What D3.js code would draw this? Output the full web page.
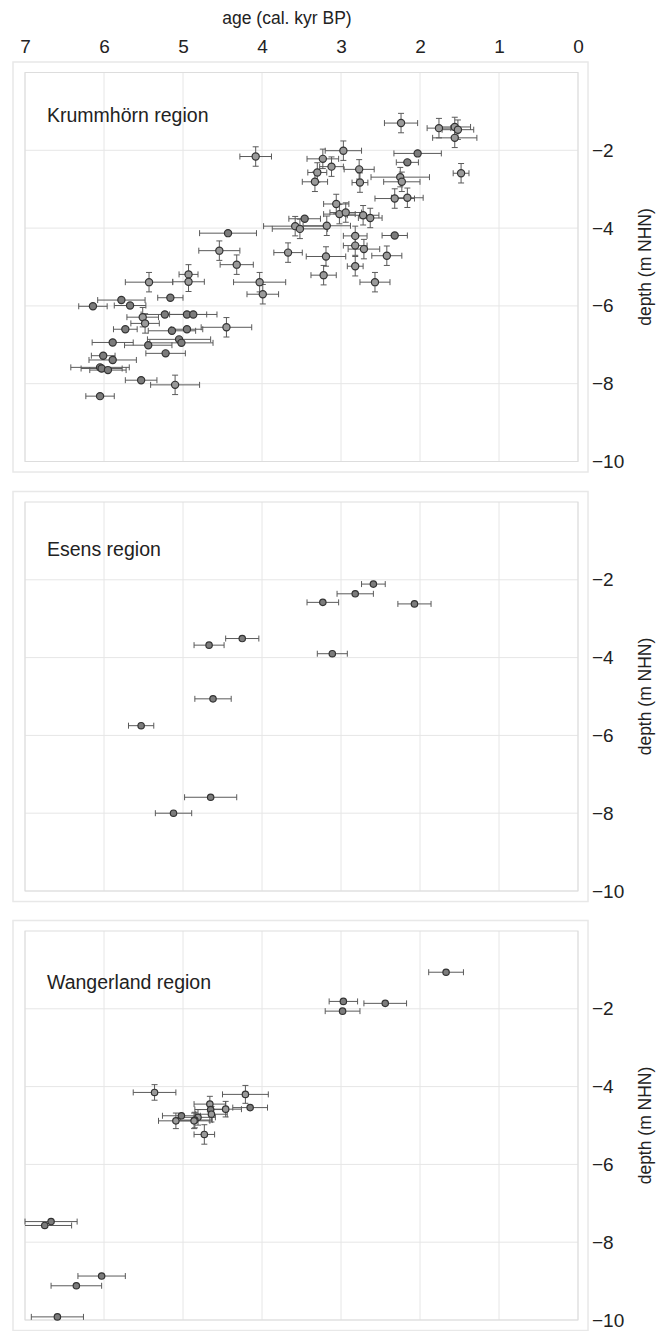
<!DOCTYPE html>
<html>
<head>
<meta charset="utf-8">
<script src="https://cdn.jsdelivr.net/npm/d3@7"></script>
<style>
  body { margin: 0; background: #fff; }
  text { font-family: "Liberation Sans", Arial, sans-serif; fill: #222; }
</style>
</head>
<body>
<div id="chart"></div>
<script>
// axis ticks
var ageTicks = [7, 6, 5, 4, 3, 2, 1, 0];
var depthTicks = [-2, -4, -6, -8, -10];
var regionNames = ["Krummhörn region", "Esens region", "Wangerland region"];

// Krummhörn: age (cal. kyr BP), depth (m NHN), age error, depth error
var krummAge = [2.24, 1.76, 1.56, 1.52, 1.56, 4.08, 2.97, 2.03, 3.23, 2.16, 3.12, 2.77, 3.30, 1.48, 2.25, 2.23, 3.33, 2.76, 2.32, 2.16,
  3.06, 3.02, 2.94, 2.72, 2.63, 3.46, 3.58, 3.52, 3.18, 4.43, 2.32, 2.82, 2.82, 2.71, 4.54, 3.67, 2.42, 3.19, 4.32, 2.82,
  4.93, 3.22, 4.93, 5.43, 4.03, 2.57, 3.99, 5.16, 5.78, 5.67, 6.14, 5.23, 4.95, 4.87, 5.51, 5.48, 5.73, 5.14, 4.95, 4.45,
  5.89, 5.44, 5.05, 5.02, 5.22, 6.01, 5.89, 6.05, 6.03, 5.95, 5.53, 5.10, 6.05];
var krummDepth = [-1.30, -1.43, -1.40, -1.47, -1.68, -2.16, -2.01, -2.08, -2.22, -2.31, -2.42, -2.49, -2.57, -2.59, -2.69, -2.81, -2.81, -2.83, -3.24, -3.22,
  -3.38, -3.64, -3.60, -3.67, -3.74, -3.76, -3.95, -4.02, -3.94, -4.13, -4.19, -4.20, -4.45, -4.54, -4.58, -4.63, -4.71, -4.73, -4.94, -4.98,
  -5.19, -5.21, -5.38, -5.39, -5.39, -5.39, -5.70, -5.79, -5.85, -5.99, -6.01, -6.22, -6.22, -6.22, -6.29, -6.45, -6.60, -6.64, -6.60, -6.55,
  -6.94, -7.01, -6.86, -6.95, -7.22, -7.28, -7.39, -7.58, -7.61, -7.65, -7.91, -8.03, -8.32];
var krummAgeErr = [0.21, 0.15, 0.2, 0.2, 0.28, 0.2, 0.23, 0.3, 0.2, 0.14, 0.15, 0.19, 0.12, 0.1, 0.37, 0.23, 0.16, 0.1, 0.25, 0.2,
  0.16, 0.2, 0.2, 0.2, 0.15, 0.2, 0.4, 0.35, 0.3, 0.36, 0.16, 0.15, 0.15, 0.2, 0.26, 0.18, 0.19, 0.25, 0.21, 0.1,
  0.12, 0.16, 0.2, 0.3, 0.33, 0.19, 0.2, 0.16, 0.3, 0.2, 0.18, 0.3, 0.25, 0.3, 0.2, 0.18, 0.15, 0.3, 0.2, 0.32,
  0.26, 0.3, 0.4, 0.4, 0.25, 0.15, 0.3, 0.37, 0.26, 0.23, 0.2, 0.31, 0.18];
var krummDepthErr = [0.25, 0.25, 0.25, 0.25, 0.25, 0.25, 0.25, 0, 0.25, 0, 0.25, 0.25, 0.25, 0.25, 0.25, 0.25, 0.25, 0.25, 0.25, 0.25,
  0.25, 0.25, 0.25, 0.25, 0.25, 0, 0.25, 0.25, 0.25, 0, 0, 0.25, 0.25, 0.25, 0.25, 0.25, 0.25, 0.25, 0.25, 0.25,
  0.25, 0.25, 0.25, 0.25, 0.25, 0.25, 0.25, 0, 0, 0, 0, 0, 0, 0, 0.25, 0.25, 0, 0, 0, 0.25,
  0, 0, 0, 0, 0, 0, 0, 0, 0, 0, 0, 0.25, 0];

// Esens
var esensAge = [2.59, 2.82, 3.23, 2.07, 4.25, 4.67, 3.11, 4.62, 5.53, 4.65, 5.12];
var esensDepth = [-2.11, -2.36, -2.58, -2.62, -3.51, -3.68, -3.90, -5.06, -5.75, -7.59, -8.00];
var esensAgeErr = [0.15, 0.23, 0.2, 0.21, 0.21, 0.19, 0.19, 0.23, 0.16, 0.33, 0.23];
var esensDepthErr = [0, 0, 0, 0, 0, 0, 0, 0, 0, 0, 0];

// Wangerland
var wangAge = [1.67, 2.97, 2.44, 2.98, 5.36, 4.21, 4.66, 4.15, 4.46, 4.65, 4.64, 5.02, 4.81, 4.85, 5.09, 4.86, 4.73, 6.67, 6.75, 6.03, 6.35, 6.59];
var wangDepth = [-1.06, -1.81, -1.86, -2.06, -4.15, -4.20, -4.45, -4.54, -4.58, -4.59, -4.71, -4.75, -4.79, -4.86, -4.88, -4.88, -5.23, -7.47, -7.57, -8.87, -9.12, -9.92];
var wangAgeErr = [0.22, 0.18, 0.27, 0.22, 0.27, 0.29, 0.2, 0.22, 0.2, 0.2, 0.2, 0.24, 0.22, 0.22, 0.22, 0.2, 0.13, 0.33, 0.34, 0.3, 0.32, 0.33];
var wangDepthErr = [0, 0, 0, 0, 0.2, 0.23, 0.2, 0, 0.2, 0, 0.2, 0, 0.2, 0.2, 0.2, 0.2, 0.25, 0, 0, 0, 0, 0];

var width = 668;
var height = 1331;

var svg = d3.select("#chart")
    .append("svg")
    .attr("width", width)
    .attr("height", height);

var x = d3.scaleLinear()
    .domain([7, 0])
    .range([25, 578]);

var panelTops = [72.5, 502, 931];
var panelHeight = 389;

var panels = [
    {name: regionNames[0], age: krummAge, depth: krummDepth, ageErr: krummAgeErr, depthErr: krummDepthErr, labelDy: 49.5},
    {name: regionNames[1], age: esensAge, depth: esensDepth, ageErr: esensAgeErr, depthErr: esensDepthErr, labelDy: 54},
    {name: regionNames[2], age: wangAge, depth: wangDepth, ageErr: wangAgeErr, depthErr: wangDepthErr, labelDy: 58}
];

// top axis
svg.append("text")
    .attr("x", 287)
    .attr("y", 24)
    .attr("text-anchor", "middle")
    .style("font-size", "17.5px")
    .text("age (cal. kyr BP)");

var topAxis = svg.append("g")
    .attr("transform", "translate(0,53)")
    .call(d3.axisTop(x).tickValues(ageTicks).tickSize(0).tickPadding(0).tickFormat(d3.format("d")));
topAxis.select(".domain").remove();
topAxis.selectAll("text")
    .attr("dy", 0)
    .style("font-size", "19px")
    .style("font-family", "'Liberation Sans', Arial, sans-serif")
    .attr("fill", "#222");

panels.forEach(function(p, i){
    var top = panelTops[i];
    var y = d3.scaleLinear()
        .domain([0, -10])
        .range([top, top + panelHeight]);

    var g = svg.append("g");

    // outer frame
    g.append("rect")
        .attr("x", 13)
        .attr("y", top - 10.5)
        .attr("width", 575)
        .attr("height", panelHeight + 21)
        .attr("fill", "white")
        .attr("stroke", "#e8e8e8")
        .attr("stroke-width", 1.5);

    // grid
    g.selectAll(".vgrid")
        .data(ageTicks)
        .enter()
        .append("line")
        .attr("x1", function(d){ return x(d); })
        .attr("x2", function(d){ return x(d); })
        .attr("y1", y(0))
        .attr("y2", y(-10))
        .attr("stroke", "#e6e6e6")
        .attr("stroke-width", 1);

    g.selectAll(".hgrid")
        .data(depthTicks)
        .enter()
        .append("line")
        .attr("x1", x(7))
        .attr("x2", x(0))
        .attr("y1", function(d){ return y(d); })
        .attr("y2", function(d){ return y(d); })
        .attr("stroke", "#e6e6e6")
        .attr("stroke-width", 1);

    g.append("rect")
        .attr("x", x(7))
        .attr("y", y(0))
        .attr("width", x(0) - x(7))
        .attr("height", y(-10) - y(0))
        .attr("fill", "none")
        .attr("stroke", "#dddddd")
        .attr("stroke-width", 1);

    // right axis
    var rightAxis = g.append("g")
        .attr("transform", "translate(" + (x(0) + 14) + ",0)")
        .call(d3.axisRight(y).tickValues(depthTicks).tickSize(0).tickPadding(0).tickFormat(d3.format("d")));
    rightAxis.select(".domain").remove();
    rightAxis.selectAll("text")
        .style("font-size", "19px")
        .style("font-family", "'Liberation Sans', Arial, sans-serif")
        .attr("fill", "#222");

    g.append("text")
        .attr("transform", "translate(651," + (y(-5)) + ") rotate(-90)")
        .attr("text-anchor", "middle")
        .style("font-size", "17.5px")
        .text("depth (m NHN)");

    g.append("text")
        .attr("x", 47)
        .attr("y", top + p.labelDy)
        .style("font-size", "19.5px")
        .text(p.name);

    var pts = p.age.map(function(a, k){
        return {age: a, depth: p.depth[k], ae: p.ageErr[k], de: p.depthErr[k]};
    });

    var clip = function(v){ return Math.min(7, Math.max(0, v)); };

    var bars = g.append("g")
        .attr("stroke", "#5a5a5a")
        .attr("stroke-width", 1);

    // horizontal error bars
    bars.selectAll(".hbar")
        .data(pts)
        .enter()
        .append("line")
        .attr("x1", function(d){ return x(clip(d.age + d.ae)); })
        .attr("x2", function(d){ return x(clip(d.age - d.ae)); })
        .attr("y1", function(d){ return y(d.depth); })
        .attr("y2", function(d){ return y(d.depth); });

    bars.selectAll(".hcapL")
        .data(pts.filter(function(d){ return d.age + d.ae <= 7; }))
        .enter()
        .append("line")
        .attr("x1", function(d){ return x(d.age + d.ae); })
        .attr("x2", function(d){ return x(d.age + d.ae); })
        .attr("y1", function(d){ return y(d.depth) - 3; })
        .attr("y2", function(d){ return y(d.depth) + 3; });

    bars.selectAll(".hcapR")
        .data(pts)
        .enter()
        .append("line")
        .attr("x1", function(d){ return x(d.age - d.ae); })
        .attr("x2", function(d){ return x(d.age - d.ae); })
        .attr("y1", function(d){ return y(d.depth) - 3; })
        .attr("y2", function(d){ return y(d.depth) + 3; });

    // vertical error bars
    var withDe = pts.filter(function(d){ return d.de > 0; });
    bars.selectAll(".vbar")
        .data(withDe)
        .enter()
        .append("line")
        .attr("x1", function(d){ return x(d.age); })
        .attr("x2", function(d){ return x(d.age); })
        .attr("y1", function(d){ return y(d.depth + d.de); })
        .attr("y2", function(d){ return y(d.depth - d.de); });

    bars.selectAll(".vcapT")
        .data(withDe)
        .enter()
        .append("line")
        .attr("x1", function(d){ return x(d.age) - 3; })
        .attr("x2", function(d){ return x(d.age) + 3; })
        .attr("y1", function(d){ return y(d.depth + d.de); })
        .attr("y2", function(d){ return y(d.depth + d.de); });

    bars.selectAll(".vcapB")
        .data(withDe)
        .enter()
        .append("line")
        .attr("x1", function(d){ return x(d.age) - 3; })
        .attr("x2", function(d){ return x(d.age) + 3; })
        .attr("y1", function(d){ return y(d.depth - d.de); })
        .attr("y2", function(d){ return y(d.depth - d.de); });

    g.selectAll(".pt")
        .data(pts)
        .enter()
        .append("circle")
        .attr("cx", function(d){ return x(d.age); })
        .attr("cy", function(d){ return y(d.depth); })
        .attr("r", i == 0 ? 3.6 : 3.2)
        .attr("fill", function(d){ return d.de > 0 ? "#9a9a9a" : "#7c7c7c"; })
        .attr("stroke", "#333")
        .attr("stroke-width", 1.2);
});
</script>
</body>
</html>
